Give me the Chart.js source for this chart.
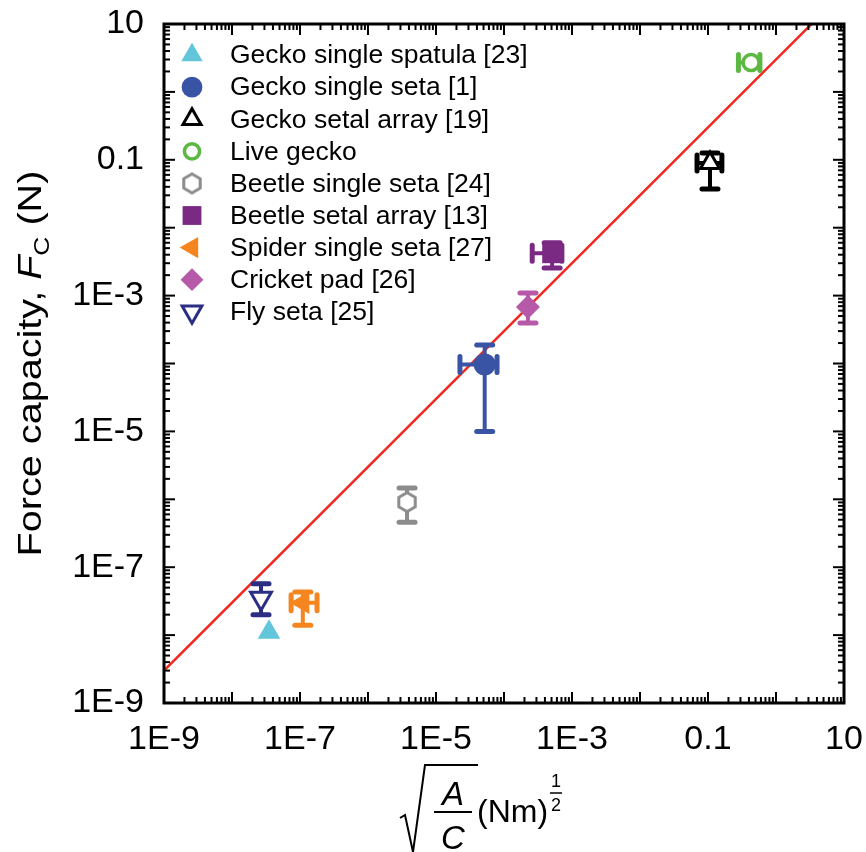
<!DOCTYPE html>
<html>
<head>
<meta charset="utf-8">
<script src="https://cdn.jsdelivr.net/npm/chart.js@4/dist/chart.umd.min.js"></script>
<style>
  html, body { margin: 0; padding: 0; background: #fff; }
</style>
</head>
<body>
<canvas id="adhesionChart" width="866" height="852"></canvas>
<script>
const seriesNames = [
  "Gecko single spatula [23]",
  "Gecko single seta [1]",
  "Gecko setal array [19]",
  "Live gecko",
  "Beetle single seta [24]",
  "Beetle setal array [13]",
  "Spider single seta [27]",
  "Cricket pad [26]",
  "Fly seta [25]",
];
// sqrt(A/C) in (Nm)^1/2 and force capacity in N
const xValues = [3.5e-8, 5.2e-5, 0.107, 0.43, 3.75e-6, 5.1e-4, 1.1e-7, 2.25e-4, 2.67e-8];
const yValues = [1.1e-8, 9.7e-5, 0.09, 2.7, 9.1e-7, 4.2e-3, 3.0e-8, 6.8e-4, 3.5e-8];
const xLow  = [null, 2.25e-5, 0.069, 0.28, null, 2.6e-4, 7.4e-8, null, null];
const xHigh = [null, 7.9e-5, 0.16, 0.58, null, 7.1e-4, 1.78e-7, null, null];
const yLow  = [null, 1.0e-5, 0.037, null, 4.6e-7, 2.55e-3, 1.4e-8, 3.95e-4, 2.0e-8];
const yHigh = [null, 1.87e-4, 0.126, null, 1.47e-6, 6.0e-3, 4.3e-8, 1.09e-3, 5.7e-8];

// fitted line F = 3 * sqrt(A/C)
const fitX = [1e-9, 10];
const fitY = [3e-9, 30];

const decadeLabels = { "-9": "1E-9", "-7": "1E-7", "-5": "1E-5", "-3": "1E-3", "-1": "0.1", "1": "10" };

const seriesColors = ["#62c6db", "#3a54a5", "#000000", "#5cb842", "#8c8c8c", "#7a2a83", "#f5861f", "#b659a8", "#2b2e82"];
const FONT = "'Liberation Sans', Arial, sans-serif";

function hexagonImage(color) {
  const c = document.createElement("canvas");
  c.width = 26; c.height = 26;
  const g = c.getContext("2d");
  g.beginPath();
  for (let k = 0; k < 6; k++) {
    const a = Math.PI / 3 * k;
    const px = 13 + 9.5 * Math.sin(a), py = 13 - 9.5 * Math.cos(a);
    k ? g.lineTo(px, py) : g.moveTo(px, py);
  }
  g.closePath();
  g.fillStyle = "#fff";
  g.fill();
  g.lineWidth = 3;
  g.strokeStyle = color;
  g.stroke();
  return c;
}

const markerStyles = [
  { pointStyle: "triangle", rotation: 0, radius: 13, borderWidth: 0, fill: true },
  { pointStyle: "circle", rotation: 0, radius: 11, borderWidth: 0, fill: true },
  { pointStyle: "triangle", rotation: 0, radius: 11, borderWidth: 3, fill: false },
  { pointStyle: "circle", rotation: 0, radius: 8, borderWidth: 3.5, fill: false },
  { pointStyle: hexagonImage(seriesColors[4]), rotation: 0, radius: 10, borderWidth: 0, fill: false },
  { pointStyle: "rect", rotation: 0, radius: 14, borderWidth: 0, fill: true },
  { pointStyle: "triangle", rotation: -90, radius: 13, borderWidth: 0, fill: true },
  { pointStyle: "rectRot", rotation: 0, radius: 12, borderWidth: 0, fill: true },
  { pointStyle: "triangle", rotation: 180, radius: 12, borderWidth: 3, fill: false },
];

function tickLabel(v) {
  const e = Math.log10(v);
  const n = Math.round(e);
  if (Math.abs(e - n) > 1e-6) return "";
  return decadeLabels[String(n)] || "";
}

const datasets = seriesNames.map((name, i) => ({
  label: name,
  data: [{ x: xValues[i], y: yValues[i] }],
  pointStyle: markerStyles[i].pointStyle,
  rotation: markerStyles[i].rotation,
  pointRadius: markerStyles[i].radius,
  pointHoverRadius: markerStyles[i].radius,
  pointBorderWidth: markerStyles[i].borderWidth,
  backgroundColor: markerStyles[i].fill ? seriesColors[i] : "#fff",
  borderColor: seriesColors[i],
  order: 1,
}));

datasets.push({
  type: "line",
  label: "fit",
  data: fitX.map((x, i) => ({ x, y: fitY[i] })),
  borderColor: "#f02a22",
  borderWidth: 2.5,
  pointRadius: 0,
  order: 5,
});

function stroke(ctx, x1, y1, x2, y2, w) {
  ctx.lineWidth = w;
  ctx.beginPath();
  ctx.moveTo(x1, y1);
  ctx.lineTo(x2, y2);
  ctx.stroke();
}

// error bars go under each marker
const errorBars = {
  id: "errorBars",
  beforeDatasetDraw(chart, args) {
    const i = args.index;
    if (i >= seriesNames.length) return;
    const { ctx, scales: { x, y } } = chart;
    const pt = args.meta.data[0];
    ctx.save();
    ctx.strokeStyle = seriesColors[i];
    ctx.lineCap = "round";
    if (yLow[i] != null) {
      const y1 = y.getPixelForValue(yLow[i]), y2 = y.getPixelForValue(yHigh[i]);
      stroke(ctx, pt.x, y1, pt.x, y2, 4);
      stroke(ctx, pt.x - 8, y1, pt.x + 8, y1, 5);
      stroke(ctx, pt.x - 8, y2, pt.x + 8, y2, 5);
    }
    if (xLow[i] != null) {
      const x1 = x.getPixelForValue(xLow[i]), x2 = x.getPixelForValue(xHigh[i]);
      stroke(ctx, x1, pt.y, x2, pt.y, 4);
      stroke(ctx, x1, pt.y - 8, x1, pt.y + 8, 5);
      stroke(ctx, x2, pt.y - 8, x2, pt.y + 8, 5);
    }
    ctx.restore();
  },
};

// box, inward ticks, legend and axis titles
const decorations = {
  id: "decorations",
  afterDraw(chart) {
    const { ctx, chartArea: a, scales: { x, y } } = chart;
    ctx.save();
    ctx.strokeStyle = "#000";
    ctx.lineCap = "butt";
    for (let e = -9; e <= 1; e++) {
      for (let m = 1; m <= 9; m++) {
        const v = m * Math.pow(10, e);
        if (v > 10.0001) break;
        const len = m === 1 ? 11 : 6;
        const px = x.getPixelForValue(v), py = y.getPixelForValue(v);
        stroke(ctx, px, a.bottom, px, a.bottom - len, 2);
        stroke(ctx, px, a.top, px, a.top + len, 2);
        stroke(ctx, a.left, py, a.left + len, py, 2);
        stroke(ctx, a.right, py, a.right - len, py, 2);
      }
    }
    ctx.lineWidth = 3;
    ctx.strokeRect(a.left, a.top, a.right - a.left, a.bottom - a.top);

    // legend
    ctx.font = "26.5px " + FONT;
    ctx.textBaseline = "middle";
    ctx.textAlign = "left";
    seriesNames.forEach((name, i) => {
      const ly = a.top + 31 + i * 32.1;
      const s = markerStyles[i];
      ctx.fillStyle = s.fill ? seriesColors[i] : "#fff";
      ctx.strokeStyle = seriesColors[i];
      ctx.lineWidth = s.borderWidth;
      Chart.helpers.drawPoint(ctx, { pointStyle: s.pointStyle, rotation: s.rotation, radius: s.radius * 0.95, borderWidth: s.borderWidth }, a.left + 28, ly);
      ctx.fillStyle = "#000";
      ctx.fillText(name, a.left + 66, ly + 1);
    });

    // y title: Force capacity, F_C (N)
    ctx.save();
    ctx.translate(30, (a.top + a.bottom) / 2);
    ctx.rotate(-Math.PI / 2);
    ctx.scale(1.2, 1);
    ctx.fillStyle = "#000";
    ctx.textBaseline = "alphabetic";
    const parts = [
      { t: "Force capacity, ", f: "33px " + FONT, dy: 0 },
      { t: "F", f: "italic 33px " + FONT, dy: 0 },
      { t: "C", f: "22px " + FONT, dy: 8 },
      { t: " (N)", f: "33px " + FONT, dy: 0 },
    ];
    let total = 0;
    parts.forEach(p => { ctx.font = p.f; p.w = ctx.measureText(p.t).width; total += p.w; });
    let cx = -total / 2;
    parts.forEach(p => { ctx.font = p.f; ctx.fillText(p.t, cx, 11 + p.dy); cx += p.w; });
    ctx.restore();

    // x title: sqrt(A/C) (Nm)^(1/2)
    ctx.fillStyle = "#000";
    ctx.strokeStyle = "#000";
    ctx.textAlign = "center";
    ctx.textBaseline = "alphabetic";
    ctx.lineCap = "butt";
    ctx.lineJoin = "miter";
    ctx.lineWidth = 2;
    ctx.beginPath();
    ctx.moveTo(400, 818);
    ctx.lineTo(405, 815);
    ctx.lineTo(413, 852);
    ctx.lineTo(425, 765);
    ctx.lineTo(478, 765);
    ctx.stroke();
    ctx.font = "italic 33px " + FONT;
    ctx.fillText("A", 453, 805);
    ctx.fillText("C", 453, 849);
    stroke(ctx, 434, 812, 472, 812, 2);
    ctx.font = "32px " + FONT;
    ctx.textAlign = "left";
    ctx.fillText("(Nm)", 477, 822);
    ctx.font = "18px " + FONT;
    ctx.textAlign = "center";
    ctx.fillText("1", 556, 787);
    stroke(ctx, 550, 793, 562, 793, 1.5);
    ctx.fillText("2", 556, 811);
    ctx.restore();
  },
};

new Chart(document.getElementById("adhesionChart"), {
  type: "scatter",
  data: { datasets },
  plugins: [errorBars, decorations],
  options: {
    responsive: false,
    animation: false,
    layout: { padding: { top: 24, right: 22, left: 0, bottom: 0 } },
    plugins: { legend: { display: false }, tooltip: { enabled: false } },
    scales: {
      x: {
        type: "logarithmic",
        min: 1e-9,
        max: 10,
        grid: { display: false },
        border: { display: false },
        ticks: {
          autoSkip: false,
          maxRotation: 0,
          padding: 8,
          color: "#000",
          font: { family: FONT, size: 34 },
          callback: v => tickLabel(v),
        },
        afterFit: s => { s.height = 149; s.paddingLeft = 0; s.paddingRight = 0; },
      },
      y: {
        type: "logarithmic",
        min: 1e-9,
        max: 10,
        grid: { display: false },
        border: { display: false },
        ticks: {
          autoSkip: false,
          padding: 12,
          color: "#000",
          font: { family: FONT, size: 34 },
          callback: v => tickLabel(v),
        },
        afterFit: s => { s.width = 164; s.paddingTop = 0; s.paddingBottom = 0; },
      },
    },
  },
});
</script>
</body>
</html>
